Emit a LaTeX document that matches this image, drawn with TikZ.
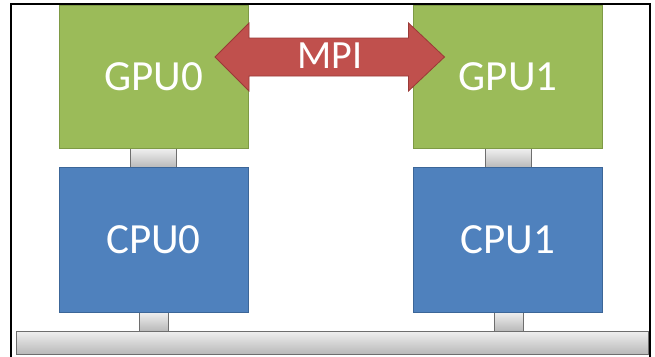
\documentclass[tikz,border=0pt]{standalone}
\usepackage{fontspec}
\setmainfont{Carlito}
\usetikzlibrary{calc}
\definecolor{gpugreen}{HTML}{9BBB59}
\definecolor{gpuedge}{HTML}{7E9A45}
\definecolor{cpublue}{HTML}{4F81BD}
\definecolor{cpuedge}{HTML}{3C6698}
\definecolor{mpired}{HTML}{C0504D}
\definecolor{mpiedge}{HTML}{9A3A37}
\definecolor{linkedge}{HTML}{6E6E6E}
\tikzset{
  unit/.style={draw, line width=0.8pt, inner sep=0pt, outer sep=0pt,
    minimum width=189pt, minimum height=143pt, text=white,
    font=\fontsize{43}{43}\selectfont},
  gpubox/.style={unit, fill=gpugreen, draw=gpuedge},
  cpubox/.style={unit, fill=cpublue, draw=cpuedge, minimum height=145pt},
  link/.style={draw=linkedge, line width=0.8pt, inner sep=0pt, outer sep=0pt,
    top color=gray!12, bottom color=gray!55},
}
\begin{document}
\begin{tikzpicture}[x=1pt, y=-1pt]
\useasboundingbox (0,0) rectangle (655,356);
% outer frame, open at the bottom edge
\draw[line width=2.2pt] (11,360) -- (11,4) -- (650,4) -- (650,360);

% bus bar and the short posts joining the units
\node[link, minimum width=632pt, minimum height=23pt] (bus) at (332,342.5) {};
\node[link, minimum width=46pt, minimum height=19pt] (l0) at (153,158) {};
\node[link, minimum width=46pt, minimum height=19pt] (l1) at (508,158) {};
\node[link, minimum width=29pt, minimum height=19pt] (b0) at (153.5,321.5) {};
\node[link, minimum width=29pt, minimum height=19pt] (b1) at (508.5,321.5) {};

% processing units
\node[gpubox] (gpu0) at (153.5,76.5) {\raisebox{-2pt}{GPU0}};
\node[gpubox] (gpu1) at (508,76.5) {\raisebox{-2pt}{GPU1}};
\node[cpubox] (cpu0) at (153.5,239.5) {CPU0};
\node[cpubox] (cpu1) at (508,239.5) {CPU1};

% MPI double arrow between the two GPUs
\coordinate (tl) at ($(gpu0.east)+(-33,-19.5)$);
\coordinate (tr) at ($(gpu1.west)+(31,-19.5)$);
\draw[fill=mpired, draw=mpiedge, line width=0.8pt]
  (tl) -- ++(34,-34) -- ++(0,15) -- ($(tr)+(-36,-19)$) -- ++(0,-15) -- (tr)
  -- ++(-36,34) -- ++(0,-15) -- ($(tl)+(34,19)$) -- ++(0,15) -- cycle;
\node[text=white, font=\fontsize{40}{40}\selectfont, inner sep=0pt] (mpi)
  at ($(tl)!0.5!(tr)+(0,-1.5)$) {MPI};
\end{tikzpicture}
\end{document}
